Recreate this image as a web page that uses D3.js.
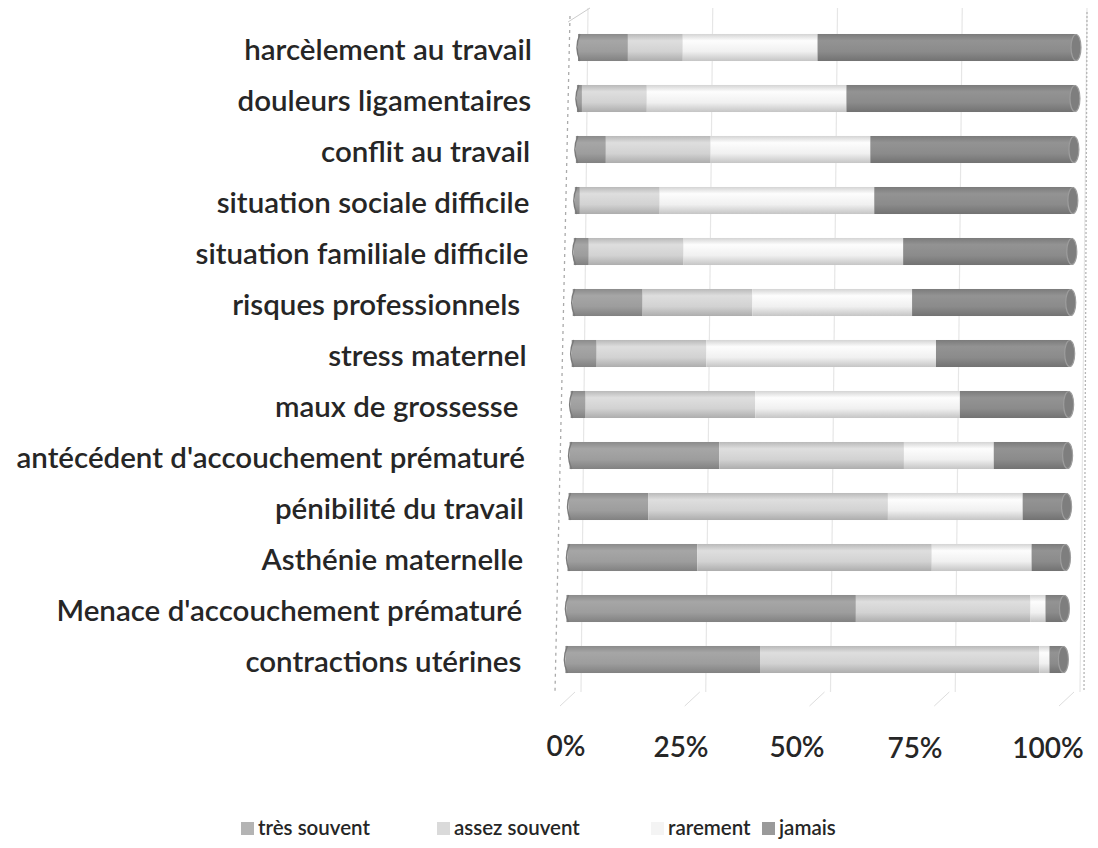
<!DOCTYPE html>
<html>
<head>
<meta charset="utf-8">
<script src="https://cdn.jsdelivr.net/npm/d3@7/dist/d3.min.js"></script>
<style>
  html, body { margin: 0; padding: 0; background: #ffffff; }
  svg { display: block; }
  text { font-family: Lato, "Open Sans", sans-serif; fill: #262626; }
</style>
</head>
<body>
<svg id="chart" width="1098" height="848"></svg>
<script>
// ---- data (percent of answers) ----
const categories = [
  "harcèlement au travail",
  "douleurs ligamentaires",
  "conflit au travail",
  "situation sociale difficile",
  "situation familiale difficile",
  "risques professionnels ",
  "stress maternel",
  "maux de grossesse ",
  "antécédent d'accouchement prématuré",
  "pénibilité du travail",
  "Asthénie maternelle",
  "Menace d'accouchement prématuré",
  "contractions utérines"
];
const tresSouvent  = [10,  1,  6,  1,  3, 14,  5,  3, 30, 16, 26, 58, 39];
const assezSouvent = [11, 13, 21, 16, 19, 22, 22, 34, 37, 48, 47, 35, 56];
const rarement     = [27, 40, 32, 43, 44, 32, 46, 41, 18, 27, 20,  3,  2];
const jamais       = [52, 46, 41, 40, 34, 32, 27, 22, 15,  9,  7,  4,  3];
const seriesNames  = ["très souvent", "assez souvent", "rarement", "jamais"];
const tickValues   = [0, 25, 50, 75, 100];
const tickLabels   = ["0%", "25%", "50%", "75%", "100%"];

// ---- styles ----
const baseColors = ["#9d9d9d", "#d2d2d2", "#f0f0f0", "#8b8b8b"];
const legendColors = ["#b4b4b4", "#dadada", "#f4f4f4", "#9a9a9a"];

const svg = d3.select("#chart");
const defs = svg.append("defs");

const keys = ["s0", "s1", "s2", "s3"];
const rows = categories.map((c, i) => ({
  cat: c, s0: tresSouvent[i], s1: assezSouvent[i], s2: rarement[i], s3: jamais[i]
}));
const stacked = d3.stack().keys(keys)(rows);

const x = d3.scaleLinear().domain([0, 100]).range([578, 1077]);
const y = d3.scaleBand().domain(categories).range([22, 685]).paddingInner(0.47).paddingOuter(0.235);
const shift = i => -i * 1.05;   // slight perspective lean of the 3D chart
// tick labels sit on the tilted front edge of the 3D floor
const xTick = d3.scaleLinear().domain(tickValues).range([566, 681, 797, 915, 1048]);

// gradients (cylinder-like shading)
baseColors.forEach((c, k) => {
  const g = defs.append("linearGradient").attr("id", "g" + k)
    .attr("x1", 0).attr("y1", 0).attr("x2", 0).attr("y2", 1);
  const col = d3.color(c);
  g.append("stop").attr("offset", "0%").attr("stop-color", col.darker(0.35));
  g.append("stop").attr("offset", "25%").attr("stop-color", col.brighter(0.15));
  g.append("stop").attr("offset", "65%").attr("stop-color", col);
  g.append("stop").attr("offset", "100%").attr("stop-color", col.darker(0.55));
});

// ---- walls & gridlines ----
const grid = svg.append("g");
grid.selectAll("line.grid").data(tickValues).join("line")
  .attr("x1", d => x(d) + 10).attr("y1", 8)
  .attr("x2", d => x(d) + 3).attr("y2", 692)
  .attr("stroke", "#e6e6e6").attr("stroke-width", 1.2);
grid.append("line").attr("x1", 570).attr("y1", 16).attr("x2", 555).attr("y2", 692)
  .attr("stroke", "#aaaaaa").attr("stroke-width", 1.3).attr("stroke-dasharray", "3,4");
grid.append("line").attr("x1", 568).attr("y1", 22).attr("x2", 590).attr("y2", 8)
  .attr("stroke", "#cccccc").attr("stroke-width", 1);
grid.append("line").attr("x1", 1087).attr("y1", 12).attr("x2", 1084).attr("y2", 692)
  .attr("stroke", "#b5b5b5").attr("stroke-width", 1.3).attr("stroke-dasharray", "2,2");
// floor ticks
grid.selectAll("line.floor").data(tickValues).join("line")
  .attr("x1", d => x(d) - 3).attr("y1", 692)
  .attr("x2", d => x(d) - 18).attr("y2", 706)
  .attr("stroke", "#dddddd").attr("stroke-width", 1);

// ---- bars ----
const bars = svg.append("g");
stacked.forEach((layer, k) => {
  bars.selectAll(null).data(layer).join("rect")
    .attr("x", (d, i) => x(d[0]) + shift(i))
    .attr("y", d => y(d.data.cat))
    .attr("width", d => Math.max(0, x(d[1]) - x(d[0])))
    .attr("height", y.bandwidth())
    .attr("fill", "url(#g" + k + ")");
});
// left and right end caps
bars.selectAll("path.lcap").data(rows).join("path")
  .attr("d", (d, i) => {
    const x0 = x(0) + shift(i), y0 = y(d.cat), h = y.bandwidth();
    return `M${x0 + 2},${y0} Q${x0 - 4},${y0 + h / 2} ${x0 + 2},${y0 + h}`;
  })
  .attr("fill", "none").attr("stroke", "#7a7a7a").attr("stroke-width", 1.4);
bars.selectAll("ellipse.rcap").data(rows).join("ellipse")
  .attr("cx", (d, i) => x(100) + shift(i) - 1)
  .attr("cy", d => y(d.cat) + y.bandwidth() / 2)
  .attr("rx", 5).attr("ry", y.bandwidth() / 2 - 0.5)
  .attr("fill", "#7e7e7e").attr("stroke", "#9d9d9d").attr("stroke-width", 1.2);

// ---- category labels ----
const labels = svg.append("g");
labels.selectAll("text").data(categories).join("text")
  .attr("x", (d, i) => 532 + shift(i) * 0.85)
  .attr("y", d => y(d) + y.bandwidth() / 2 + 12)
  .attr("text-anchor", "end")
  .style("white-space", "pre")
  .style("font-size", "29.5px")
  .style("font-weight", 600)
  .text(d => d);

// ---- x tick labels ----
svg.append("g").selectAll("text").data(tickValues).join("text")
  .attr("x", d => xTick(d))
  .attr("y", (d, i) => 756 + i * 0.6)
  .attr("text-anchor", "middle")
  .style("font-size", "28px")
  .style("font-weight", 600)
  .text((d, i) => tickLabels[i]);

// ---- legend ----
const legendX = [241, 437, 651, 762];
const lg = svg.append("g");
seriesNames.forEach((n, k) => {
  lg.append("rect").attr("x", legendX[k]).attr("y", 822).attr("width", 13).attr("height", 13)
    .attr("fill", legendColors[k]);
  lg.append("text").attr("x", legendX[k] + 17).attr("y", 835)
    .style("font-size", "20.5px").style("font-weight", 600).text(n);
});
</script>
</body>
</html>
